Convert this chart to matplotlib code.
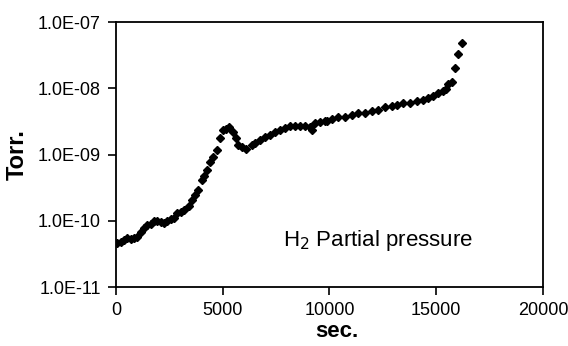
import matplotlib
matplotlib.use("Agg")
import matplotlib.pyplot as plt
from matplotlib.ticker import FixedLocator, FuncFormatter

# H2 partial pressure vs time
time_s = [50, 230, 380, 520, 700, 840, 980, 1170, 1310, 1450, 1640, 1780,
          1920, 2110, 2250, 2390, 2580, 2720, 2860, 3050, 3190, 3420, 3560,
          3700, 3850, 4050, 4100, 4250, 4400, 4550, 4750, 4850, 5000, 5150,
          5300, 5500, 5600, 5700, 5900, 6100, 6370, 6510, 6745, 6980, 7210,
          7450, 7680, 7920, 8150, 8380, 8620, 8850, 9090, 9180, 9320, 9560,
          9790, 9880, 10120, 10400, 10730, 11050, 11340, 11660, 11990, 12270,
          12600, 12930, 13160, 13440, 13770, 14100, 14380, 14610, 14850,
          15080, 15320, 15460, 15550, 15740, 15880, 16020, 16210]
pressure = [4.6e-11, 4.8e-11, 5.1e-11, 5.5e-11, 5.3e-11, 5.5e-11, 5.7e-11,
            6.8e-11, 7.8e-11, 8.6e-11, 8.9e-11, 9.9e-11, 9.9e-11, 9.6e-11,
            9.2e-11, 9.9e-11, 1.06e-10, 1.1e-10, 1.31e-10, 1.36e-10, 1.45e-10,
            1.67e-10, 2.06e-10, 2.45e-10, 2.91e-10, 4.12e-10, 4.73e-10,
            5.83e-10, 7.7e-10, 9.2e-10, 1.17e-9, 1.77e-9, 2.34e-9, 2.43e-9,
            2.6e-9, 2.19e-9, 1.77e-9, 1.39e-9, 1.30e-9, 1.21e-9, 1.39e-9,
            1.49e-9, 1.66e-9, 1.84e-9, 1.97e-9, 2.19e-9, 2.34e-9, 2.51e-9,
            2.69e-9, 2.69e-9, 2.69e-9, 2.69e-9, 2.6e-9, 2.34e-9, 2.99e-9,
            3.1e-9, 3.2e-9, 3.2e-9, 3.44e-9, 3.68e-9, 3.68e-9, 3.94e-9,
            4.23e-9, 4.23e-9, 4.54e-9, 4.7e-9, 5.21e-9, 5.4e-9, 5.58e-9,
            5.98e-9, 5.98e-9, 6.42e-9, 6.65e-9, 7.13e-9, 7.64e-9, 8.48e-9,
            9.1e-9, 9.75e-9, 1.16e-8, 1.24e-8, 2.02e-8, 3.29e-8, 4.82e-8]

x_ticks = [0, 5000, 10000, 15000, 20000]
y_ticks = [1e-11, 1e-10, 1e-9, 1e-8, 1e-7]

plt.rcParams['font.family'] = ['Liberation Sans', 'DejaVu Sans']

fig = plt.figure(figsize=(5.68, 3.46), dpi=100)
ax = fig.add_axes([0.2042, 0.1705, 0.7518, 0.7659])

ax.plot(time_s, pressure, linestyle='none', marker='D', markersize=3.6,
        color='black')

ax.set_yscale('log')
ax.set_xlim(0, 20000)
ax.set_ylim(1e-11, 1e-7)
ax.xaxis.set_major_locator(FixedLocator(x_ticks))
ax.yaxis.set_major_locator(FixedLocator(y_ticks))
ax.yaxis.set_minor_locator(FixedLocator([]))
ax.yaxis.set_major_formatter(FuncFormatter(lambda v, p: f"{v:.1E}"))
ax.tick_params(axis='both', direction='out', length=6, width=1.2, labelsize=13)
ax.tick_params(axis='x', pad=5)
ax.tick_params(axis='y', pad=5)
for s in ax.spines.values():
    s.set_linewidth(1.3)

ax.set_xlabel('sec.', fontsize=16, fontweight='bold', labelpad=1)
ax.xaxis.set_label_coords(0.518, -0.13)
ax.set_ylabel('Torr.', fontsize=17, fontweight='bold', labelpad=6)

ax.text(0.391, 0.177, r'H$_2$ Partial pressure', transform=ax.transAxes,
        fontsize=16, ha='left', va='center')

fig.savefig('out.png', dpi=100)
